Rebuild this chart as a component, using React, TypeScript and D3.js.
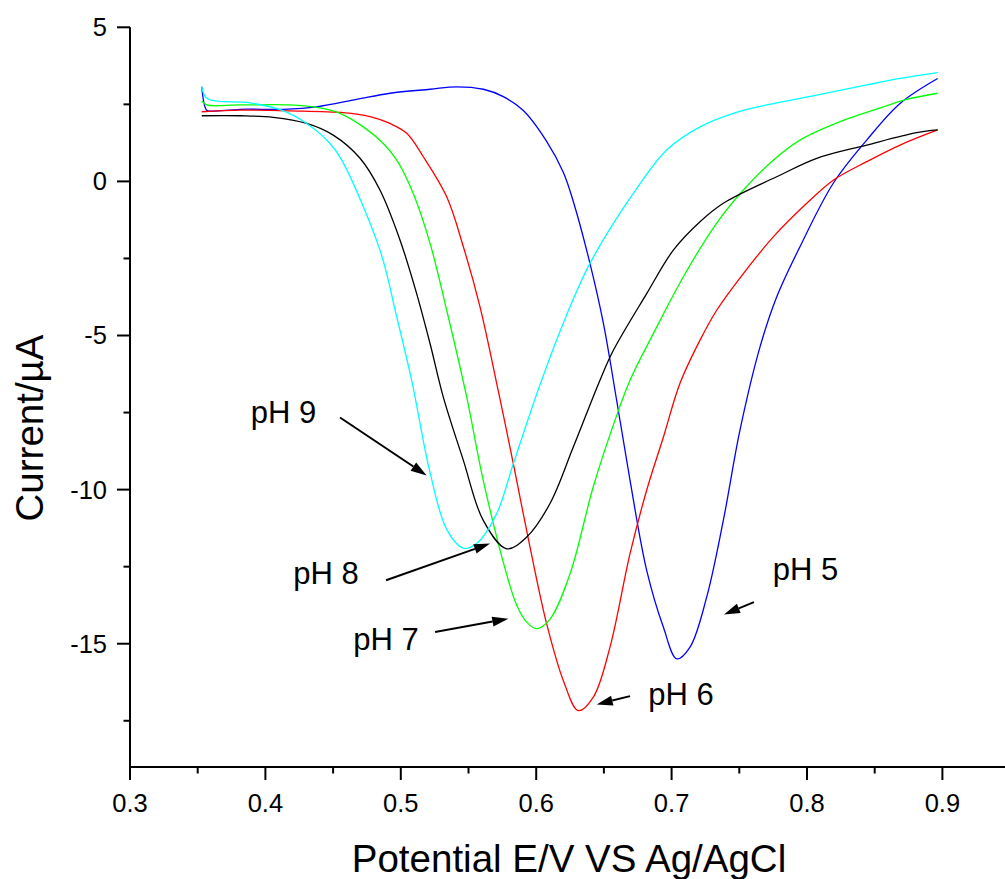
import React from "react";
import * as d3 from "d3";

// Potential (V vs Ag/AgCl) and current (µA) for each pH
const ph9X = [0.353, 0.357, 0.3886, 0.412, 0.4305, 0.4477, 0.4564, 0.4846, 0.497, 0.508, 0.5216, 0.534, 0.5462, 0.556, 0.5708, 0.5831, 0.6028, 0.62, 0.6397, 0.6717, 0.6964, 0.721, 0.7456, 0.7702, 0.8072, 0.8441, 0.8687, 0.8965];
const ph9Y = [3.07, 2.69, 2.55, 2.31, 1.88, 1.23, 0.69, -2.23, -4.4, -6.45, -9.45, -11.3, -11.9, -11.75, -10.78, -9.16, -6.6, -4.6, -2.66, -0.39, 1.02, 1.77, 2.21, 2.48, 2.8, 3.13, 3.34, 3.53];

const ph8X = [0.353, 0.3812, 0.4058, 0.4305, 0.4501, 0.4699, 0.4846, 0.4994, 0.5117, 0.5216, 0.5314, 0.5462, 0.5609, 0.5782, 0.593, 0.6102, 0.6274, 0.6471, 0.657, 0.6816, 0.7013, 0.721, 0.7382, 0.7776, 0.8072, 0.8441, 0.881, 0.8965];
const ph8Y = [2.13, 2.13, 2.08, 1.88, 1.5, 0.75, -0.28, -1.9, -3.64, -5.26, -7.0, -9.05, -11.0, -11.92, -11.54, -10.45, -8.62, -6.45, -5.48, -3.64, -2.23, -1.31, -0.71, 0.15, 0.75, 1.18, 1.58, 1.67];

const ph7X = [0.353, 0.3567, 0.3812, 0.4182, 0.4379, 0.4551, 0.4723, 0.4871, 0.497, 0.5092, 0.5216, 0.5339, 0.5487, 0.5609, 0.5782, 0.5856, 0.593, 0.6003, 0.6102, 0.625, 0.6422, 0.657, 0.6693, 0.6865, 0.7086, 0.7332, 0.753, 0.7751, 0.7948, 0.8244, 0.8564, 0.8736, 0.8965];
const ph7Y = [2.61, 2.48, 2.48, 2.48, 2.4, 2.21, 1.77, 1.23, 0.69, -0.39, -2.01, -4.18, -7.0, -9.7, -12.75, -13.75, -14.3, -14.51, -14.2, -12.73, -9.9, -7.9, -6.45, -4.94, -3.1, -1.36, -0.28, 0.69, 1.34, 1.94, 2.42, 2.66, 2.86];

const ph6X = [0.353, 0.3812, 0.4182, 0.4575, 0.4773, 0.492, 0.5044, 0.5166, 0.5339, 0.5462, 0.5585, 0.572, 0.5831, 0.5954, 0.6077, 0.62, 0.6311, 0.6422, 0.6545, 0.6693, 0.6816, 0.6939, 0.7062, 0.721, 0.7333, 0.753, 0.7751, 0.7998, 0.8194, 0.8441, 0.8687, 0.8965];
const ph6Y = [2.26, 2.31, 2.29, 2.23, 2.1, 1.88, 1.56, 0.8, -0.5, -2.12, -4.07, -6.8, -9.16, -11.86, -14.35, -16.19, -17.17, -16.73, -15.11, -12.08, -10.02, -8.3, -6.55, -5.15, -4.18, -2.99, -1.8, -0.71, 0.04, 0.64, 1.18, 1.67];

const ph5X = [0.353, 0.3566, 0.3603, 0.3812, 0.4132, 0.4379, 0.4674, 0.492, 0.5216, 0.5413, 0.561, 0.5757, 0.5905, 0.6077, 0.62, 0.6274, 0.6397, 0.6496, 0.6594, 0.6693, 0.6816, 0.6939, 0.7038, 0.7136, 0.7259, 0.7382, 0.7505, 0.7653, 0.7776, 0.7948, 0.8194, 0.8441, 0.8687, 0.8965];
const ph5Y = [3.07, 2.31, 2.28, 2.34, 2.34, 2.42, 2.66, 2.86, 2.99, 3.07, 2.99, 2.75, 2.3, 1.3, 0.3, -0.65, -2.66, -4.6, -7.1, -9.7, -12.62, -14.46, -15.49, -15.11, -13.49, -11.0, -8.07, -5.37, -3.75, -2.12, -0.06, 1.34, 2.53, 3.34];

const seriesNames = ["pH 5", "pH 6", "pH 7", "pH 8", "pH 9"];
const seriesX = [ph5X, ph6X, ph7X, ph8X, ph9X];
const seriesY = [ph5Y, ph6Y, ph7Y, ph8Y, ph9Y];
const seriesColors = ["#0000ff", "#ff0000", "#00ff00", "#000000", "#00ffff"];

const xMajorTicks = [0.3, 0.4, 0.5, 0.6, 0.7, 0.8, 0.9];
const xMinorTicks = [0.35, 0.45, 0.55, 0.65, 0.75, 0.85, 0.95];
const yMajorTicks = [5, 0, -5, -10, -15];
const yMinorTicks = [2.5, -2.5, -7.5, -12.5, -17.5];

// annotation: label anchor and arrow (from -> to), in data units
const annLabels = ["pH 9", "pH 8", "pH 7", "pH 6", "pH 5"];
const annTextX = [0.3891, 0.4206, 0.4649, 0.6828, 0.7747];
const annTextY = [-7.84, -13.07, -15.21, -17.0, -12.94];
const annFromX = [0.4551, 0.4891, 0.5253, 0.6693, 0.7608];
const annFromY = [-7.66, -12.94, -14.62, -16.7, -13.65];
const annToX = [0.5191, 0.5659, 0.5794, 0.6447, 0.7387];
const annToY = [-9.54, -11.75, -14.19, -16.97, -14.05];

const W = 1005;
const H = 879;
const FONT = "'Liberation Sans', Arial, sans-serif";

export default function App() {
  const x = d3.scaleLinear().domain([0.3, 0.95]).range([130, 130 + 6.5 * 135.4]);
  const y = d3.scaleLinear().domain([-19, 5]).range([767, 27.3]);
  const line = d3
    .line<[number, number]>()
    .x((d) => x(d[0]))
    .y((d) => y(d[1]))
    .curve(d3.curveCatmullRom.alpha(0.5));

  const x0 = x(0.3);
  const yb = y(-19);

  return (
    <svg
      width={W}
      height={H}
      style={{ position: "absolute", left: 0, top: 0, background: "#fff" }}
      fontFamily={FONT}
    >
      <rect x={0} y={0} width={W} height={H} fill="#fff" />
      {seriesX.map((xs, i) => (
        <path
          key={seriesNames[i]}
          d={line(xs.map((v, j) => [v, seriesY[i][j]] as [number, number])) || ""}
          fill="none"
          stroke={seriesColors[i]}
          strokeWidth={1.3}
        />
      ))}
      {/* axes */}
      <line x1={x0} x2={x0} y1={y(5)} y2={yb + 1} stroke="#000" strokeWidth={2} />
      <line x1={x0 - 1} x2={W + 10} y1={yb} y2={yb} stroke="#000" strokeWidth={2} />
      {xMajorTicks.map((t) => (
        <g key={"xm" + t}>
          <line x1={x(t)} x2={x(t)} y1={yb} y2={yb + 13} stroke="#000" strokeWidth={2} />
          <text x={x(t)} y={812} fontSize={25.5} textAnchor="middle" fill="#000">
            {t.toFixed(1)}
          </text>
        </g>
      ))}
      {xMinorTicks.map((t) => (
        <line key={"xn" + t} x1={x(t)} x2={x(t)} y1={yb} y2={yb + 6.5} stroke="#000" strokeWidth={2} />
      ))}
      {yMajorTicks.map((t) => (
        <g key={"ym" + t}>
          <line x1={x0 - 13} x2={x0} y1={y(t)} y2={y(t)} stroke="#000" strokeWidth={2} />
          <text x={107} y={y(t)} dy="0.35em" fontSize={25.5} textAnchor="end" fill="#000">
            {String(t)}
          </text>
        </g>
      ))}
      {yMinorTicks.map((t) => (
        <line key={"yn" + t} x1={x0 - 6.5} x2={x0} y1={y(t)} y2={y(t)} stroke="#000" strokeWidth={2} />
      ))}
      {/* axis titles */}
      <text x={569} y={872} fontSize={38.5} textAnchor="middle" fill="#000">
        Potential E/V VS Ag/AgCl
      </text>
      <text
        transform={`translate(43,428) rotate(-90)`}
        fontSize={38.5}
        textAnchor="middle"
        fill="#000"
      >
        Current/µA
      </text>
      {/* annotations */}
      {annLabels.map((lab, i) => {
        const fx = x(annFromX[i]);
        const fy = y(annFromY[i]);
        const tx = x(annToX[i]);
        const ty = y(annToY[i]);
        const ang = Math.atan2(ty - fy, tx - fx);
        const hl = 16;
        const hw = 5;
        const bx = tx - hl * Math.cos(ang);
        const by = ty - hl * Math.sin(ang);
        const px = -Math.sin(ang) * hw;
        const py = Math.cos(ang) * hw;
        return (
          <g key={lab}>
            <text x={x(annTextX[i])} y={y(annTextY[i])} fontSize={31} fill="#000">
              {lab}
            </text>
            <line x1={fx} y1={fy} x2={bx} y2={by} stroke="#000" strokeWidth={2} />
            <polygon
              points={`${tx},${ty} ${bx + px},${by + py} ${bx - px},${by - py}`}
              fill="#000"
            />
          </g>
        );
      })}
    </svg>
  );
}
